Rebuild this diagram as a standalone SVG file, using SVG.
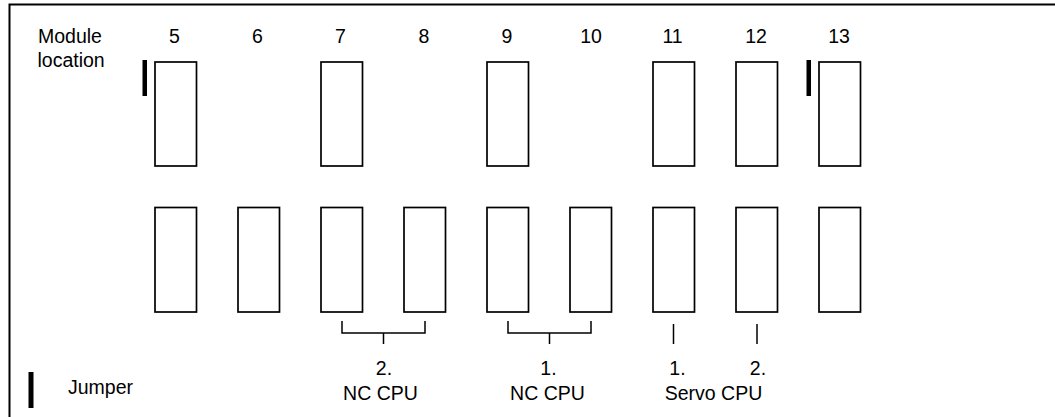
<svg xmlns="http://www.w3.org/2000/svg" width="1055" height="417" viewBox="0 0 1055 417">
<style>
.box{fill:none;stroke:#000;stroke-width:1.7}
.jmp{fill:#000;stroke:none}
.lbl{font-family:"Liberation Sans",Arial,sans-serif;font-size:19.5px;fill:#000}
.mid{text-anchor:middle}
.con{fill:none;stroke:#000;stroke-width:1.5}
.frame{fill:none;stroke:#000;stroke-width:2}
</style>
<rect width="1055" height="417" fill="#fff"/>
<path class="frame" d="M9.5,417 V4.5 H1055"/>
<g id="header">
<text class="lbl" x="38" y="43">Module</text>
<text class="lbl" x="37.5" y="66.5">location</text>
<text class="lbl mid" x="174.5" y="43">5</text>
<text class="lbl mid" x="257.5" y="43">6</text>
<text class="lbl mid" x="340.5" y="43">7</text>
<text class="lbl mid" x="424" y="43">8</text>
<text class="lbl mid" x="507" y="43">9</text>
<text class="lbl mid" x="591" y="43">10</text>
<text class="lbl mid" x="672.5" y="43">11</text>
<text class="lbl mid" x="756" y="43">12</text>
<text class="lbl mid" x="839" y="43">13</text>
</g>
<g id="top-row">
<rect id="top5" class="box" x="155" y="62" width="41.5" height="104"/>
<rect id="top7" class="box" x="321" y="62" width="41.5" height="104"/>
<rect id="top9" class="box" x="487" y="62" width="41.5" height="104"/>
<rect id="top11" class="box" x="653" y="62" width="41.5" height="104"/>
<rect id="top12" class="box" x="736" y="62" width="41.5" height="104"/>
<rect id="top13" class="box" x="819" y="62" width="41.5" height="104"/>
</g>
<g id="bottom-row">
<rect id="bot5" class="box" x="155" y="207.5" width="41.5" height="104.5"/>
<rect id="bot6" class="box" x="238" y="207.5" width="41.5" height="104.5"/>
<rect id="bot7" class="box" x="321" y="207.5" width="41.5" height="104.5"/>
<rect id="bot8" class="box" x="404" y="207.5" width="41.5" height="104.5"/>
<rect id="bot9" class="box" x="487" y="207.5" width="41.5" height="104.5"/>
<rect id="bot10" class="box" x="570" y="207.5" width="41.5" height="104.5"/>
<rect id="bot11" class="box" x="653" y="207.5" width="41.5" height="104.5"/>
<rect id="bot12" class="box" x="736" y="207.5" width="41.5" height="104.5"/>
<rect id="bot13" class="box" x="819" y="207.5" width="41.5" height="104.5"/>
</g>
<g id="jumpers">
<rect class="jmp" x="142.5" y="60" width="4.5" height="36"/>
<rect class="jmp" x="806.5" y="60" width="4.5" height="36"/>
</g>
<g id="connectors">
<path class="con" d="M342,321 V333 H425 V321 M383.5,333 V344"/>
<path class="con" d="M508,321 V333 H591 V321 M549.5,333 V344"/>
<path class="con" d="M673.5,324 V344"/>
<path class="con" d="M757,324 V344"/>
</g>
<g id="cpu-labels">
<text class="lbl mid" x="384" y="375">2.</text>
<text class="lbl mid" x="380.5" y="400">NC CPU</text>
<text class="lbl mid" x="548.5" y="375">1.</text>
<text class="lbl mid" x="547.5" y="400">NC CPU</text>
<text class="lbl mid" x="677.5" y="375">1.</text>
<text class="lbl mid" x="758" y="375">2.</text>
<text class="lbl mid" x="713.5" y="400">Servo CPU</text>
</g>
<g id="legend">
<rect class="jmp" x="28.5" y="372" width="5" height="36"/>
<text class="lbl" x="68" y="394">Jumper</text>
</g>
</svg>
